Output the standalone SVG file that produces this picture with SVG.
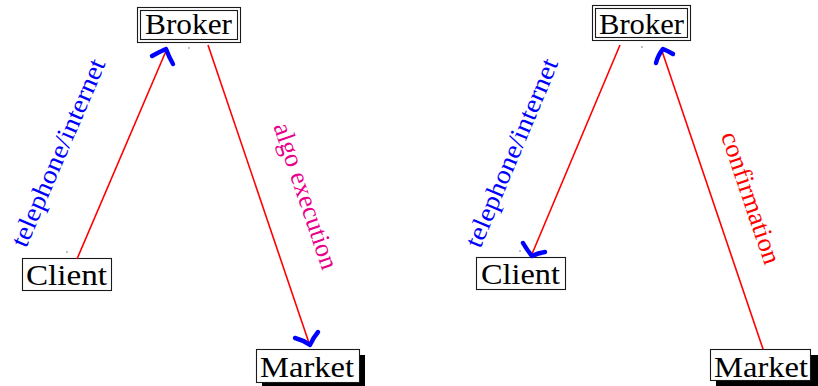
<svg xmlns="http://www.w3.org/2000/svg" width="818" height="386" viewBox="0 0 818 386">
  <style>
    .box { fill: #ffffff; stroke: #1a1a1a; stroke-width: 1.1; }
    .shadow { fill: #000000; }
    .name { font-family: "Liberation Serif", "Times New Roman", serif; font-size: 29px; fill: #000000; text-anchor: middle; }
    .link { stroke: #ff0000; stroke-width: 1.6; fill: none; }
    .tip { stroke: #0000ff; stroke-width: 4.4; fill: none; stroke-linecap: round; stroke-linejoin: round; }
    .lbl { font-family: "Liberation Serif", "Times New Roman", serif; font-size: 26px; text-anchor: middle; }
    .anchor { fill: #777777; }
  </style>

  <!-- left scenario: client orders via broker, broker executes on market -->
  <g id="broker-left">
    <rect class="box" x="137.5" y="7.5" width="103" height="35"/>
    <rect class="box" x="140.5" y="10.5" width="97" height="29"/>
    <text class="name" x="188.5" y="34" textLength="87" lengthAdjust="spacingAndGlyphs">Broker</text>
  </g>
  <g id="client-left">
    <rect class="box" x="22.5" y="258.5" width="89" height="32"/>
    <text class="name" x="66.5" y="285" textLength="81" lengthAdjust="spacingAndGlyphs">Client</text>
  </g>
  <g id="market-left">
    <rect class="shadow" x="262" y="355" width="103" height="33"/>
    <rect class="box" x="256.5" y="349.5" width="103" height="33"/>
    <text class="name" x="307" y="377" textLength="94" lengthAdjust="spacingAndGlyphs">Market</text>
  </g>

  <!-- right scenario: broker contacts client, market confirms to broker -->
  <g id="broker-right">
    <rect class="box" x="592.5" y="5.5" width="98" height="35"/>
    <rect class="box" x="595.5" y="8.5" width="92" height="29"/>
    <text class="name" x="641.5" y="34" textLength="85" lengthAdjust="spacingAndGlyphs">Broker</text>
  </g>
  <g id="client-right">
    <rect class="box" x="476.5" y="257.5" width="89" height="32"/>
    <text class="name" x="520.5" y="284" textLength="79" lengthAdjust="spacingAndGlyphs">Client</text>
  </g>
  <g id="market-right">
    <rect class="shadow" x="716" y="355" width="102" height="33"/>
    <rect class="box" x="710.5" y="349.5" width="100" height="31"/>
    <text class="name" x="761" y="377" textLength="94" lengthAdjust="spacingAndGlyphs">Market</text>
  </g>

  <g id="connectors">
    <!-- anchor specks -->
    <circle class="anchor" cx="189" cy="48" r="0.8"/>
    <circle class="anchor" cx="67" cy="252" r="0.8"/>
    <circle class="anchor" cx="642" cy="47" r="0.8"/>
    <circle class="anchor" cx="520" cy="251" r="0.8"/>

    <!-- client -> broker (left) -->
    <line class="link" x1="77" y1="259" x2="166" y2="51"/>
    <path class="tip" d="M152,56 Q159,52 166,49 Q169,57 173,64"/>
    <text class="lbl" fill="#0000ff" transform="translate(60,153.5) rotate(-66.7)" y="6.5" textLength="202" lengthAdjust="spacingAndGlyphs">telephone/internet</text>

    <!-- broker -> market (left) -->
    <line class="link" x1="208" y1="45" x2="309" y2="343"/>
    <path class="tip" d="M295,338 Q303,340 310,345 Q313,338 318,332"/>
    <text class="lbl" fill="#e8008c" transform="translate(304,196.5) rotate(71.2)" y="6.5" textLength="153" lengthAdjust="spacingAndGlyphs">algo execution</text>

    <!-- broker -> client (right) -->
    <line class="link" x1="620" y1="45" x2="532" y2="254"/>
    <path class="tip" d="M523,243 Q527,250 532,256 Q538,253 545,252"/>
    <text class="lbl" fill="#0000ff" transform="translate(513.5,153.5) rotate(-67.2)" y="6.5" textLength="202" lengthAdjust="spacingAndGlyphs">telephone/internet</text>

    <!-- market -> broker (right) -->
    <line class="link" x1="763" y1="349" x2="662" y2="51"/>
    <path class="tip" d="M656,63 Q658,55 663,49 Q668,51 673,54"/>
    <text class="lbl" fill="#ff0000" transform="translate(749,198.5) rotate(71.3)" y="6.5" textLength="138" lengthAdjust="spacingAndGlyphs">confirmation</text>
  </g>
</svg>
